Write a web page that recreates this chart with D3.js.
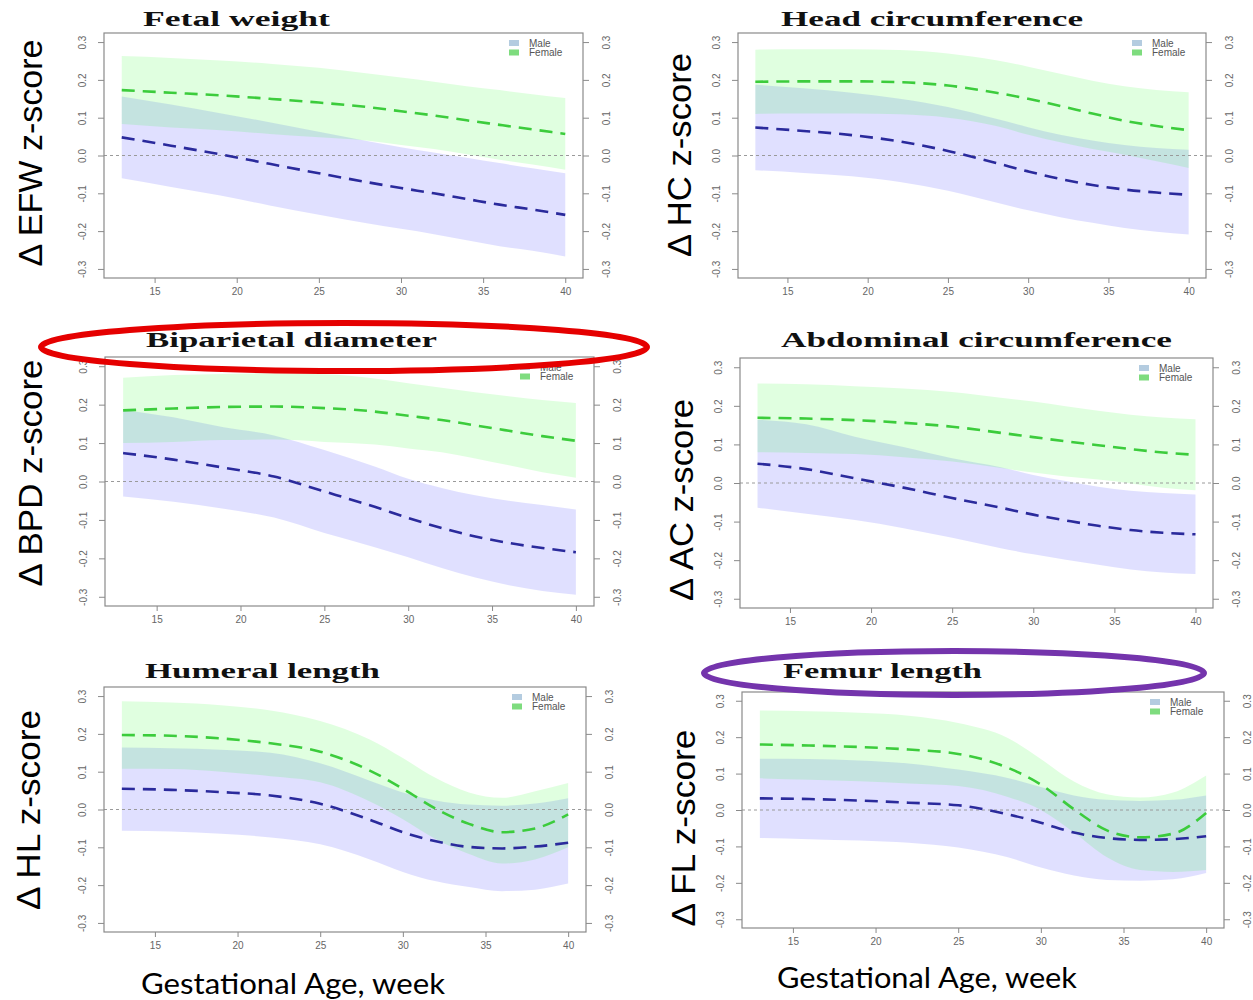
<!DOCTYPE html>
<html>
<head>
<meta charset="utf-8">
<script src="https://cdn.jsdelivr.net/npm/d3@7"></script>
<style>
  body { margin: 0; background: #fff; }
  svg { display: block; }
</style>
</head>
<body>
<svg id="chart" width="1253" height="1000"></svg>
<script>
// DATA
const weeks = [13, 16, 19, 22, 25, 28, 30, 32, 34, 36, 38, 40];
const xTicks = [15, 20, 25, 30, 35, 40];
const yTicks = [-0.3, -0.2, -0.1, 0, 0.1, 0.2, 0.3];
const sexLabels = ["Male", "Female"];
const titles = ["Fetal weight", "Head circumference", "Biparietal diameter",
  "Abdominal circumference", "Humeral length", "Femur length"];
const yLabels = ["Δ EFW z-score", "Δ HC z-score", "Δ BPD z-score",
  "Δ AC z-score", "Δ HL z-score", "Δ FL z-score"];
const xLabel = "Gestational Age, week";

// Fetal weight
const efwFemaleMean = [0.173, 0.166, 0.159, 0.150, 0.140, 0.128, 0.117, 0.106, 0.093, 0.081, 0.069, 0.057];
const efwFemaleHi   = [0.263, 0.258, 0.251, 0.243, 0.232, 0.217, 0.206, 0.195, 0.183, 0.173, 0.162, 0.152];
const efwFemaleLo   = [0.083, 0.074, 0.067, 0.057, 0.048, 0.039, 0.028, 0.017, 0.003, -0.011, -0.024, -0.038];
const efwMaleMean   = [0.048, 0.026, 0.003, -0.022, -0.047, -0.071, -0.086, -0.100, -0.115, -0.130, -0.143, -0.157];
const efwMaleHi     = [0.156, 0.135, 0.112, 0.088, 0.063, 0.038, 0.022, 0.008, -0.006, -0.020, -0.034, -0.047];
const efwMaleLo     = [-0.060, -0.083, -0.106, -0.132, -0.157, -0.180, -0.194, -0.208, -0.224, -0.240, -0.252, -0.267];

// Head circumference
const hcFemaleMean = [0.195, 0.196, 0.196, 0.194, 0.185, 0.166, 0.150, 0.131, 0.111, 0.092, 0.078, 0.067];
const hcFemaleHi   = [0.280, 0.281, 0.281, 0.279, 0.270, 0.252, 0.235, 0.216, 0.198, 0.183, 0.173, 0.167];
const hcFemaleLo   = [0.110, 0.111, 0.111, 0.109, 0.100, 0.078, 0.055, 0.035, 0.017, 0.002, -0.015, -0.033];
const hcMaleMean   = [0.074, 0.065, 0.054, 0.037, 0.012, -0.020, -0.042, -0.062, -0.078, -0.090, -0.098, -0.104];
const hcMaleHi     = [0.187, 0.178, 0.166, 0.150, 0.128, 0.097, 0.075, 0.055, 0.040, 0.028, 0.020, 0.015];
const hcMaleLo     = [-0.039, -0.046, -0.055, -0.070, -0.093, -0.124, -0.145, -0.163, -0.178, -0.192, -0.202, -0.209];

// Biparietal diameter
const bpdFemaleMean = [0.185, 0.190, 0.194, 0.195, 0.191, 0.182, 0.171, 0.160, 0.146, 0.132, 0.118, 0.106];
const bpdFemaleHi   = [0.270, 0.277, 0.280, 0.281, 0.279, 0.268, 0.256, 0.244, 0.232, 0.222, 0.212, 0.204];
const bpdFemaleLo   = [0.100, 0.103, 0.108, 0.109, 0.103, 0.096, 0.086, 0.076, 0.060, 0.042, 0.024, 0.010];
const bpdMaleMean   = [0.074, 0.057, 0.036, 0.013, -0.026, -0.066, -0.095, -0.121, -0.143, -0.160, -0.173, -0.184];
const bpdMaleHi     = [0.187, 0.167, 0.141, 0.120, 0.082, 0.039, 0.007, -0.017, -0.036, -0.050, -0.061, -0.073];
const bpdMaleLo     = [-0.039, -0.053, -0.071, -0.094, -0.134, -0.171, -0.197, -0.225, -0.250, -0.270, -0.285, -0.295];

// Abdominal circumference
const acFemaleMean = [0.169, 0.167, 0.163, 0.156, 0.146, 0.130, 0.119, 0.108, 0.098, 0.088, 0.079, 0.073];
const acFemaleHi   = [0.258, 0.256, 0.251, 0.245, 0.236, 0.221, 0.211, 0.199, 0.187, 0.177, 0.170, 0.165];
const acFemaleLo   = [0.080, 0.078, 0.075, 0.067, 0.056, 0.039, 0.027, 0.017, 0.009, -0.001, -0.012, -0.019];
const acMaleMean   = [0.050, 0.036, 0.012, -0.012, -0.039, -0.064, -0.082, -0.097, -0.111, -0.122, -0.129, -0.133];
const acMaleHi     = [0.164, 0.152, 0.120, 0.093, 0.064, 0.041, 0.021, 0.005, -0.010, -0.020, -0.026, -0.030];
const acMaleLo     = [-0.064, -0.080, -0.096, -0.117, -0.142, -0.169, -0.185, -0.199, -0.212, -0.224, -0.232, -0.236];

// Humeral length
const hlFemaleMean = [0.197, 0.195, 0.188, 0.175, 0.153, 0.103, 0.055, 0.002, -0.038, -0.060, -0.050, -0.013];
const hlFemaleHi   = [0.286, 0.283, 0.276, 0.262, 0.234, 0.185, 0.136, 0.083, 0.045, 0.031, 0.048, 0.070];
const hlFemaleLo   = [0.108, 0.107, 0.100, 0.088, 0.072, 0.021, -0.026, -0.079, -0.118, -0.143, -0.132, -0.100];
const hlMaleMean   = [0.055, 0.052, 0.046, 0.037, 0.015, -0.027, -0.060, -0.084, -0.099, -0.103, -0.098, -0.088];
const hlMaleHi     = [0.164, 0.162, 0.158, 0.150, 0.122, 0.076, 0.045, 0.024, 0.013, 0.010, 0.016, 0.030];
const hlMaleLo     = [-0.056, -0.058, -0.064, -0.074, -0.092, -0.132, -0.165, -0.190, -0.205, -0.216, -0.212, -0.196];

// Femur length
const flFemaleMean = [0.180, 0.177, 0.173, 0.166, 0.154, 0.116, 0.070, 0.002, -0.056, -0.075, -0.065, -0.008];
const flFemaleHi   = [0.273, 0.271, 0.267, 0.259, 0.239, 0.198, 0.140, 0.078, 0.043, 0.034, 0.048, 0.095];
const flFemaleLo   = [0.087, 0.083, 0.079, 0.073, 0.066, 0.036, 0.000, -0.062, -0.130, -0.165, -0.170, -0.165];
const flMaleMean   = [0.032, 0.030, 0.026, 0.020, 0.013, -0.012, -0.035, -0.062, -0.077, -0.082, -0.080, -0.072];
const flMaleHi     = [0.141, 0.140, 0.136, 0.128, 0.111, 0.088, 0.063, 0.040, 0.028, 0.025, 0.028, 0.040];
const flMaleLo     = [-0.077, -0.080, -0.084, -0.090, -0.103, -0.130, -0.158, -0.180, -0.192, -0.194, -0.190, -0.173];

const series = [
  { male: [efwMaleMean, efwMaleLo, efwMaleHi], female: [efwFemaleMean, efwFemaleLo, efwFemaleHi] },
  { male: [hcMaleMean, hcMaleLo, hcMaleHi], female: [hcFemaleMean, hcFemaleLo, hcFemaleHi] },
  { male: [bpdMaleMean, bpdMaleLo, bpdMaleHi], female: [bpdFemaleMean, bpdFemaleLo, bpdFemaleHi] },
  { male: [acMaleMean, acMaleLo, acMaleHi], female: [acFemaleMean, acFemaleLo, acFemaleHi] },
  { male: [hlMaleMean, hlMaleLo, hlMaleHi], female: [hlFemaleMean, hlFemaleLo, hlFemaleHi] },
  { male: [flMaleMean, flMaleLo, flMaleHi], female: [flFemaleMean, flFemaleLo, flFemaleHi] }
];

// LAYOUT
// box: [left, top, right, bottom]; title: [x start, x end, baseline]; ylab: [baseline x, centre y, length]
const layout = [
  { box: [104, 33, 583, 278], title: [143, 330, 26], ylab: [42, 153, 227] },
  { box: [738, 33, 1206, 278], title: [781, 1083, 26], ylab: [691, 155, 204] },
  { box: [105, 357, 594, 606], title: [146, 437, 347], ylab: [42, 473, 227] },
  { box: [740, 358, 1213, 608], title: [781, 1172, 347], ylab: [693, 500, 202] },
  { box: [104, 687, 586, 932], title: [145, 380, 678], ylab: [40, 810, 200] },
  { box: [742, 692, 1224, 928], title: [783, 982, 678], ylab: [695, 828, 197] }
];

const colors = {
  maleBand: "rgba(0,0,255,0.12)",
  femaleBand: "rgba(0,255,0,0.12)",
  maleLine: "#2a2a9c",
  femaleLine: "#3ccc3c",
  maleKey: "#b4cce0",
  femaleKey: "#7edc7e",
  axis: "#8a8a8a",
  tickText: "#666"
};

const svg = d3.select("#chart");

function drawPanel(i) {
  const [x0, y0, x1, y1] = layout[i].box;
  const x = d3.scaleLinear().domain([11.92, 41.08]).range([x0, x1]);
  const y = d3.scaleLinear().domain([-0.324, 0.324]).range([y1, y0]);
  const g = svg.append("g").attr("class", "panel");

  const area = d3.area()
    .x((d, j) => x(weeks[j]))
    .y0(d => y(d[0]))
    .y1(d => y(d[1]))
    .curve(d3.curveMonotoneX);

  const line = d3.line()
    .x((d, j) => x(weeks[j]))
    .y(d => y(d))
    .curve(d3.curveMonotoneX);

  const s = series[i];
  const bandData = arr => weeks.map((w, j) => [arr[1][j], arr[2][j]]);

  g.append("path").attr("d", area(bandData(s.male))).attr("fill", colors.maleBand);
  g.append("path").attr("d", area(bandData(s.female))).attr("fill", colors.femaleBand);

  // zero reference
  g.append("line")
    .attr("x1", x0).attr("x2", x1)
    .attr("y1", y(0)).attr("y2", y(0))
    .attr("stroke", "#9a9a9a").attr("stroke-width", 1)
    .attr("stroke-dasharray", "3,3");

  g.append("path").attr("d", line(s.male[0]))
    .attr("fill", "none").attr("stroke", colors.maleLine)
    .attr("stroke-width", 2.6).attr("stroke-dasharray", "13,8");
  g.append("path").attr("d", line(s.female[0]))
    .attr("fill", "none").attr("stroke", colors.femaleLine)
    .attr("stroke-width", 2.6).attr("stroke-dasharray", "13,8");

  // box
  g.append("rect")
    .attr("x", x0).attr("y", y0)
    .attr("width", x1 - x0).attr("height", y1 - y0)
    .attr("fill", "none").attr("stroke", colors.axis).attr("stroke-width", 1.2);

  const fmt = d => d.toFixed(1);
  const styleAxis = (sel) => {
    sel.select(".domain").remove();
    sel.selectAll(".tick line").attr("stroke", colors.axis);
    sel.selectAll("text")
      .attr("fill", colors.tickText)
      .style("font-family", "Liberation Sans, Arial, sans-serif")
      .style("font-size", "10px");
  };

  const left = g.append("g").attr("transform", `translate(${x0},0)`)
    .call(d3.axisLeft(y).tickValues(yTicks).tickSize(6).tickFormat(fmt));
  styleAxis(left);
  left.selectAll("text")
    .attr("x", null).attr("dy", null)
    .attr("text-anchor", "middle")
    .attr("transform", "translate(-18,0) rotate(-90)");

  const right = g.append("g").attr("transform", `translate(${x1},0)`)
    .call(d3.axisRight(y).tickValues(yTicks).tickSize(6).tickFormat(fmt));
  styleAxis(right);
  right.selectAll("text")
    .attr("x", null).attr("dy", null)
    .attr("text-anchor", "middle")
    .attr("transform", "translate(27,0) rotate(-90)");

  const bottom = g.append("g").attr("transform", `translate(0,${y1})`)
    .call(d3.axisBottom(x).tickValues(xTicks).tickSize(5).tickPadding(5));
  styleAxis(bottom);

  // legend
  const keys = [colors.maleKey, colors.femaleKey];
  sexLabels.forEach((lab, k) => {
    const ly = y0 + 10 + k * 9.5;
    g.append("rect")
      .attr("x", x1 - 74).attr("y", ly - 3)
      .attr("width", 10).attr("height", 6)
      .attr("fill", keys[k]);
    g.append("text")
      .attr("x", x1 - 54).attr("y", ly + 3.5)
      .attr("fill", "#555")
      .style("font-family", "Liberation Sans, Arial, sans-serif")
      .style("font-size", "10px")
      .text(lab);
  });

  // title
  const [tx0, tx1, tby] = layout[i].title;
  g.append("text")
    .attr("x", tx0).attr("y", tby)
    .attr("textLength", tx1 - tx0)
    .attr("lengthAdjust", "spacingAndGlyphs")
    .attr("fill", "#111")
    .style("font-family", "Liberation Serif, Times New Roman, serif")
    .style("font-weight", "bold")
    .style("font-size", "20px")
    .text(titles[i]);

  // y label
  const [bx, cy, len] = layout[i].ylab;
  g.append("text")
    .attr("transform", `translate(${bx},${cy}) rotate(-90)`)
    .attr("text-anchor", "middle")
    .attr("textLength", len)
    .attr("lengthAdjust", "spacingAndGlyphs")
    .attr("fill", "#000")
    .style("font-family", "Liberation Sans, Arial, sans-serif")
    .style("font-size", "34px")
    .text(yLabels[i]);
}

d3.range(6).forEach(drawPanel);

// x-axis captions under each column
[[141, 445, 994], [777, 1077, 988]].forEach(([a, b, by]) => {
  svg.append("text")
    .attr("x", a).attr("y", by)
    .attr("textLength", b - a)
    .attr("lengthAdjust", "spacingAndGlyphs")
    .attr("fill", "#000")
    .style("font-family", "Lato, Open Sans, sans-serif")
    .style("font-size", "28px")
    .text(xLabel);
});

// highlight ellipses
svg.append("ellipse")
  .attr("cx", 344).attr("cy", 347).attr("rx", 303).attr("ry", 24)
  .attr("fill", "none").attr("stroke", "#e50000").attr("stroke-width", 6);
svg.append("ellipse")
  .attr("cx", 954).attr("cy", 673).attr("rx", 250).attr("ry", 22)
  .attr("fill", "none").attr("stroke", "#7434ac").attr("stroke-width", 6);
</script>
</body>
</html>
